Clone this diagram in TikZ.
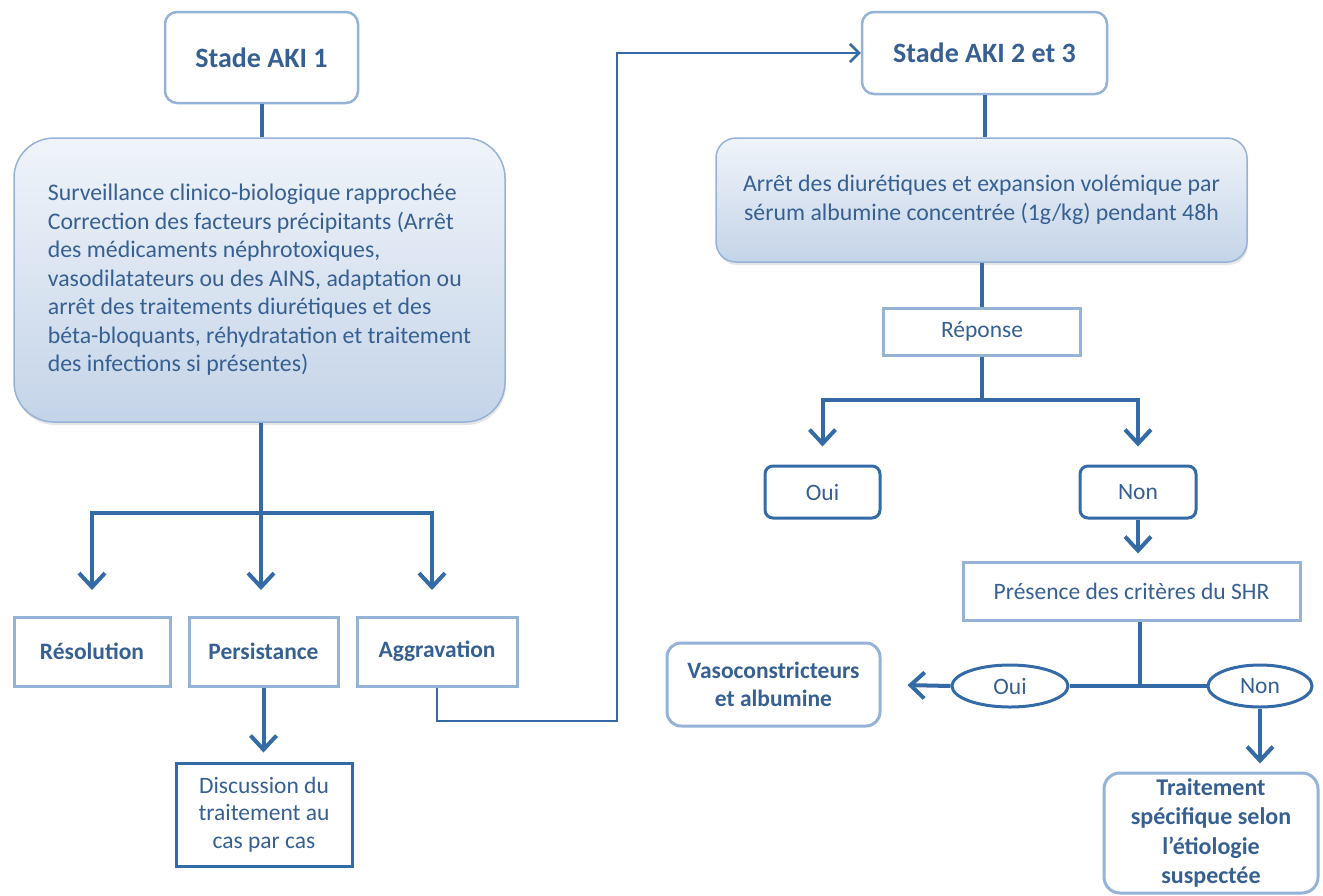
\documentclass[tikz,border=0pt]{standalone}
\usepackage{fontspec}
\setmainfont{Carlito}
\usepackage{tikz}
\usetikzlibrary{arrows.meta, shapes.geometric, shadows}
\usepackage{xcolor}
\definecolor{linkblue}{RGB}{52, 106, 166}
\definecolor{textblue}{RGB}{55, 96, 146}
\definecolor{borderblue}{RGB}{149, 179, 215}
\definecolor{shadetop}{RGB}{240, 244, 250}
\definecolor{shadebottom}{RGB}{196, 212, 232}

\tikzset{
  stagebox/.style={draw=borderblue, line width=2.5pt, rounded corners=12pt, fill=white, text=textblue, font=\bfseries\fontsize{28}{32}\selectfont},
  carebox/.style={draw=borderblue, line width=1.5pt, top color=shadetop, bottom color=shadebottom, text=textblue, font=\fontsize{23.8}{28.5}\selectfont, drop shadow={opacity=0.2, shadow xshift=1pt, shadow yshift=-3pt}},
  outcomebox/.style={draw=borderblue, line width=3pt, fill=white, text=textblue, font=\bfseries\fontsize{23.5}{28}\selectfont},
  plainbox/.style={draw=borderblue, line width=3pt, fill=white, text=textblue, font=\fontsize{23.5}{27.5}\selectfont},
  answerbox/.style={draw=linkblue, line width=3pt, rounded corners=8pt, fill=white, text=textblue, font=\fontsize{23.5}{28}\selectfont},
  answeroval/.style={ellipse, draw=linkblue, line width=3pt, fill=white, text=textblue, font=\fontsize{23.5}{28}\selectfont, inner sep=0pt},
  link/.style={draw=linkblue, line width=4pt},
  arrow/.style={link, -{Straight Barb[length=14pt, width=26pt, line width=4pt]}},
  loopline/.style={draw=linkblue, line width=2.5pt, -{Straight Barb[length=9pt, width=18pt, line width=2.5pt]}}
}

\begin{document}
\begin{tikzpicture}[x=1pt, y=-1pt]
    \useasboundingbox (0,0) rectangle (1323,895);

    % Stage 1 column
    \node[stagebox, minimum width=193pt, minimum height=91pt] (aki1) at (261.5,57.5) {Stade AKI 1};
    \node[carebox, rounded corners=40pt, minimum width=491pt, minimum height=284pt, align=left] (surv) at (259.5,280) {Surveillance clinico-biologique rapproch\'ee\\Correction des facteurs pr\'ecipitants (Arr\^et\\des m\'edicaments n\'ephrotoxiques,\\vasodilatateurs ou des AINS, adaptation ou\\arr\^et des traitements diur\'etiques et des\\b\'eta-bloquants, r\'ehydratation et traitement\\des infections si pr\'esentes)};
    \node[outcomebox, minimum width=156pt, minimum height=69pt] (resol) at (92,651.5) {R\'esolution};
    \node[outcomebox, minimum width=149pt, minimum height=69pt] (persist) at (263.5,651.5) {Persistance};
    \node[outcomebox, minimum width=160pt, minimum height=69pt] (aggrav) at (437,651.5) {Aggravation};
    \node[plainbox, draw=linkblue, minimum width=176pt, minimum height=103pt, align=center] (discus) at (264,814.5) {Discussion du\\traitement au\\cas par cas};

    % Stage 2-3 column
    \node[stagebox, minimum width=245pt, minimum height=82pt] (aki23) at (984.5,53) {Stade AKI 2 et 3};
    \node[carebox, rounded corners=20pt, minimum width=531pt, minimum height=124pt, align=center] (expand) at (981.5,200) {Arr\^et des diur\'etiques et expansion vol\'emique par\\s\'erum albumine concentr\'ee (1g/kg) pendant 48h};
    \node[plainbox, minimum width=197pt, minimum height=47pt] (rep) at (982,331.5) {R\'eponse};
    \node[answerbox, minimum width=115pt, minimum height=52pt] (oui) at (822.5,492) {Oui};
    \node[answerbox, minimum width=116pt, minimum height=52pt] (non) at (1138,492) {Non};
    \node[plainbox, minimum width=337pt, minimum height=58pt] (pres) at (1131.5,591) {Pr\'esence des crit\`eres du SHR};
    \node[answeroval, minimum width=116pt, minimum height=42pt] (ouie) at (1010,686) {Oui};
    \node[answeroval, minimum width=104pt, minimum height=42pt] (nonee) at (1260,686) {Non};
    \node[answerbox, draw=borderblue, rounded corners=14pt, font=\bfseries\fontsize{23.5}{28}\selectfont, minimum width=213pt, minimum height=83pt, align=center] (vaso) at (773.5,684.5) {Vasoconstricteurs\\et albumine};
    \node[answerbox, draw=borderblue, rounded corners=16pt, font=\bfseries\fontsize{24}{29.5}\selectfont, minimum width=214pt, minimum height=120pt, align=center] (trait) at (1211,833) {Traitement\\sp\'ecifique selon\\l'\'etiologie\\suspect\'ee};

    % Junctions and arrow ends
    \coordinate (fork1) at (261,513);
    \coordinate (endresol) at (92,590);
    \coordinate (endpersist) at (261,590);
    \coordinate (endaggrav) at (432,590);
    \coordinate (bend) at (617,721);
    \coordinate (fork2) at (982,400);
    \coordinate (fork3) at (1140,686);

    % Connectors
    \draw[link] (aki1.south) -- (aki1.south |- surv.north);
    \draw[link] (surv.south -| fork1) -- (fork1);
    \draw[arrow] (fork1) -| (endresol);
    \draw[arrow] (fork1) -- (endpersist);
    \draw[arrow] (fork1) -| (endaggrav);
    \draw[arrow, shorten >=9pt] (persist.south) -- (discus.north -| persist.south);
    \draw[loopline] (aggrav.south) |- (bend) |- (aki23.west);

    \draw[link] (aki23.south) -- (aki23.south |- expand.north);
    \draw[link] (expand.south -| rep.north) -- (rep.north);
    \draw[link] (rep.south) -- (fork2);
    \draw[arrow, shorten >=18pt] (fork2) -| (oui.north);
    \draw[arrow, shorten >=18pt] (fork2) -| (non.north);
    \draw[arrow, shorten >=7pt] (non.south) -- (non.south |- pres.north);
    \draw[link] (fork3 |- pres.south) -- (fork3);
    \draw[link] (ouie.east) -- (nonee.west);
    \draw[arrow, shorten >=26pt] (ouie.west) -- (vaso.east);
    \draw[arrow, shorten >=8pt] (nonee.south) -- (nonee.south |- trait.north);
\end{tikzpicture}
\end{document}
